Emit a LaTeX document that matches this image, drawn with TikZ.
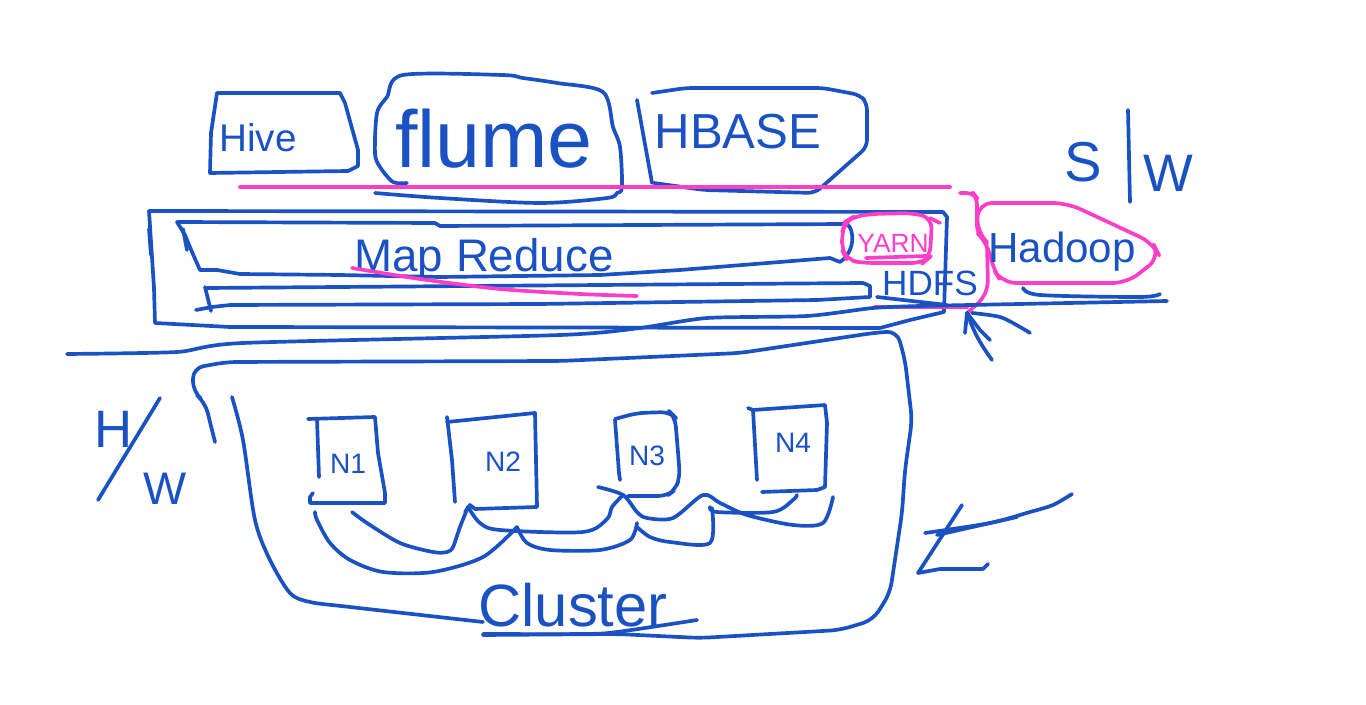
\documentclass[tikz,border=0pt]{standalone}
\usepackage{fontspec}
\setmainfont{Liberation Sans}
\usetikzlibrary{arrows.meta}
\definecolor{inkblue}{HTML}{1A52C4}
\definecolor{inkpink}{HTML}{FF3EC8}
\newcommand{\penfont}[1]{\fontsize{#1}{#1}\selectfont}

\begin{document}
\begin{tikzpicture}[x=0.02cm, y=-0.02cm, line cap=round, line join=round]
            \tikzset{
                pen/.style={inkblue, line width=2.1pt},
                marker/.style={inkpink, line width=2.1pt},
                word/.style={text=inkblue, inner sep=0pt, anchor=base},
                pinkword/.style={text=inkpink, inner sep=0pt, anchor=base}
            }
            \useasboundingbox (0,0) rectangle (1366,705);

            % Software tools
            \draw[pen] (217,93) -- (340,93) -- (345,103) -- (358,150) -- (358,166) -- (348,171) -- (210,173) -- (211,133) -- cycle;
            \draw[pen] plot[smooth, tension=0.5] coordinates {(407,183) (393,182) (380,167) (375,153) (377,113) (387,97) (403,75)
                (502,75) (523,78) (557,83) (603,92) (613,127) (620,147) (622,187) (617,193) (607,198) (540,203) (440,198) (375,193)};
            \draw[pen] (637,100) -- (652,183);
            \draw[pen, rounded corners=4pt] (652,93) -- (686,88) -- (823,88) -- (860,95) -- (867,103) -- (867,147) -- (815,193) -- (704,190) -- (654,183);

            \node[word, font=\penfont{22}] (hive) at (258,152) {Hive};
            \node[word, font=\penfont{46}] (flume) at (494,168) {flume};
            \node[word, font=\penfont{28}] (hbase) at (738,149) {HBASE};

            % S | W
            \node[word, font=\penfont{32}] (sws) at (1083,182) {S};
            \node[word, font=\penfont{30}] (sww) at (1168,192) {W};
            \coordinate (swtop) at (1128,110);
            \coordinate (swbot) at (1130,202);
            \draw[pen] (swtop) -- (swbot);

            % Hadoop stack
            \draw[marker] (240,187) -- (950,187);
            \draw[pen] (149,211) -- (943,212) -- (947,217) -- (945,280) -- (944,312) -- (910,320) -- (880,328) -- (230,327) -- (155,323) -- (154,288) -- cycle;
            \draw[pen] (149,229) -- (151,255);
            \draw[pen] (200,270) -- (192,252) -- (185,235) -- (177,222) -- (435,223) -- (440,226) -- (847,224)
                .. controls (855,230) and (855,252) .. (840,262) -- (830,258) -- (680,270) -- (600,275) -- (440,277) -- (340,275) -- (240,274) -- (217,270) -- cycle;
            \draw[pen] (183,229) -- (187,250);
            \draw[pen] (207,288) -- (863,283) -- (870,286) -- (870,297) -- (817,300) -- (540,304) -- (230,305) -- (212,307) -- (196,310);
            \draw[pen] (205,287) -- (211,311);
            \node[word, font=\penfont{26}] (mapred) at (484,272) {Map Reduce};
            \draw[marker] plot[smooth, tension=0.5] coordinates {(352,268) (420,279) (500,289) (580,294) (637,296)};

            \draw[marker, rounded corners=6pt] (845,222) -- (853,217) -- (870,214) -- (913,213) -- (932,218) -- (930,257) -- (923,263) -- (863,263) -- (847,260) -- (842,250) -- (842,233) -- cycle;
            \draw[marker] (930,218) -- (940,223);
            \node[pinkword, font=\penfont{15}] (yarn) at (893,253) {YARN};
            \draw[marker] (866,258) -- (926,256);

            \node[word, font=\penfont{20}] (hdfs) at (930,296) {HDFS};
            \draw[marker] (875,307) -- (967,307);

            \draw[marker, rounded corners=8pt] (978,203) -- (1067,203) -- (1093,215) -- (1153,243) -- (1160,257) -- (1127,283) -- (1002,283) -- (992,267) -- (988,243) -- (977,233) -- cycle;
            \node[word, font=\penfont{24}] (hadoop) at (1062,263) {Hadoop};
            \draw[marker, rounded corners=4pt] (960,193) -- (973,193) -- (977,198) -- (977,233) -- (987,242) -- (988,287) -- (982,300) -- (967,313);

            % Dividing line
            \draw[pen] plot[smooth, tension=0.4] coordinates {(67,354) (177,352) (243,343) (560,335) (640,328) (707,318) (807,316)
                (873,308) (920,306) (970,305) (1167,301)};
            \draw[pen] (877,297) -- (947,305);
            \draw[pen] plot[smooth, tension=0.5] coordinates {(1023,288) (1040,295) (1140,297) (1160,294)};

            % Arrow to the stack
            \coordinate (tip) at (967,313);
            \coordinate (tail) at (992,360);
            \draw[pen] (tail) to[bend left=8] (tip);
            \draw[pen] (tip) -- (965,333);
            \draw[pen] (tip) -- (980,330) -- (990,340);
            \draw[pen] plot[smooth, tension=0.5] coordinates {(972,313) (1000,317) (1020,327) (1030,333)};

            % H / W
            \node[word, font=\penfont{30}] (hwh) at (114,448) {H};
            \node[word, font=\penfont{26}] (hww) at (165,505) {W};
            \coordinate (hwtop) at (160,398);
            \coordinate (hwbot) at (98,500);
            \draw[pen] (hwtop) -- (hwbot);

            % Cluster
            \draw[pen, rounded corners=6pt] (215,442) -- (205,402) -- (193,392) -- (193,368) -- (227,362) -- (560,361) -- (740,353) -- (873,333)
                -- (897,331) -- (905,360) -- (912,420) -- (905,470) -- (902,513) -- (890,593) -- (873,620) -- (840,630) -- (700,638) -- (617,634) -- (483,635);
            \draw[pen] plot[smooth, tension=0.5] coordinates {(232,397) (243,440) (255,520) (270,560) (290,593) (310,602) (350,607) (483,622)};
            \draw[pen] plot[smooth, tension=0.5] coordinates {(483,634) (583,634) (617,632) (697,620)};
            \node[word, font=\penfont{34}] (cluster) at (573,626) {Cluster};

            % Nodes
            \draw[pen] (308,419) -- (375,417) -- (378,453) -- (385,493) -- (385,503) -- (310,503) -- (310,497) -- (313,493);
            \draw[pen] (317,419) -- (319,477);
            \draw[pen] (447,422) -- (535,413) -- (537,507) -- (475,509) -- (470,505) -- (465,512);
            \draw[pen] (447,417) -- (452,460) -- (455,502);
            \draw[pen, rounded corners=5pt] (615,419) -- (637,413) -- (670,412) -- (675,417) -- (677,440) -- (680,477) -- (675,490) -- (667,496) -- (628,496);
            \draw[pen] (615,420) -- (619,473) -- (620,480);
            \draw[pen] (748,408) -- (753,410) -- (825,405) -- (827,423) -- (825,487) -- (817,490) -- (762,492);
            \draw[pen] (753,410) -- (757,480);

            \node[word, font=\penfont{16}] (n1) at (348,474) {N1};
            \node[word, font=\penfont{16}] (n2) at (503,472) {N2};
            \node[word, font=\penfont{16}] (n3) at (647,466) {N3};
            \node[word, font=\penfont{16}] (n4) at (793,453) {N4};

            % Links
            \draw[pen] plot[smooth, tension=0.5] coordinates {(315,512) (317,520) (330,543) (350,560) (383,572) (433,572) (483,557) (517,527)};
            \draw[pen] plot[smooth, tension=0.5] coordinates {(352,512) (367,523) (400,543) (433,552) (447,552) (453,547) (460,527) (468,507)};
            \draw[pen] plot[smooth, tension=0.5] coordinates {(468,507) (480,523) (500,530) (583,532) (607,519) (612,507) (623,495)};
            \draw[pen] plot[smooth, tension=0.5] coordinates {(517,527) (527,543) (550,550) (600,550) (630,540) (637,523)};
            \draw[pen] plot[smooth, tension=0.5] coordinates {(637,527) (650,537) (670,542) (710,543) (712,508)};
            \draw[pen] plot[smooth, tension=0.5] coordinates {(598,487) (623,495) (637,512) (647,518) (673,518) (703,495) (720,503)
                (747,515) (793,525) (823,523) (833,497)};
            \draw[pen] plot[smooth, tension=0.5] coordinates {(710,507) (717,512) (773,512) (793,500) (797,495)};

            % Mark at the right
            \draw[pen] (962,505) -- (918,573) -- (940,569) -- (983,569) -- (988,564);
            \draw[pen] plot[smooth, tension=0.5] coordinates {(925,533) (990,523) (1030,512) (1053,505) (1072,494)};
            \draw[pen] (937,535) -- (1017,517);
        \end{tikzpicture}
\end{document}
